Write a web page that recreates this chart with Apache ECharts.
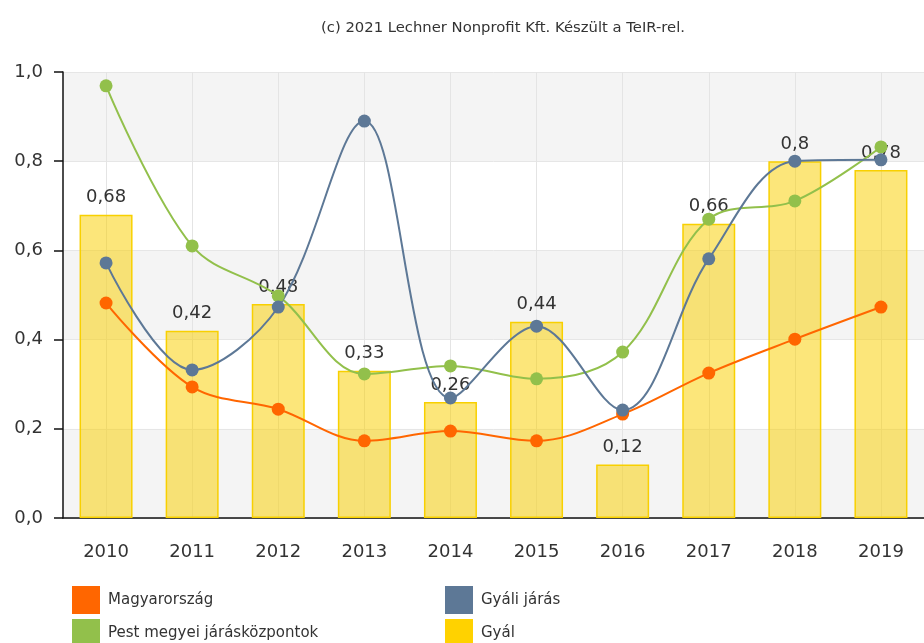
<!DOCTYPE html>
<html>
<head>
<meta charset="utf-8">
<script src="https://cdn.jsdelivr.net/npm/echarts@6/dist/echarts.min.js"></script>
<style>
  html, body { margin: 0; padding: 0; background: #fff; }
  #chart { width: 924px; height: 643px; }
</style>
</head>
<body>
<div id="chart"></div>
<script>
const years = ['2010', '2011', '2012', '2013', '2014', '2015', '2016', '2017', '2018', '2019'];
const gyal = [0.68, 0.42, 0.48, 0.33, 0.26, 0.44, 0.12, 0.66, 0.80, 0.78];
const magyarorszag = [0.482, 0.294, 0.244, 0.173, 0.195, 0.173, 0.233, 0.325, 0.401, 0.473];
const gyaliJaras = [0.572, 0.332, 0.473, 0.890, 0.269, 0.430, 0.242, 0.581, 0.800, 0.803];
const pestJarask = [0.969, 0.610, 0.498, 0.323, 0.341, 0.312, 0.372, 0.670, 0.711, 0.832];

const FONT = 'DejaVu Sans';

// tizedesvessző a magyar formátumhoz
function hu(v) {
    return String(v).replace('.', ',');
}

function lineSeries(name, data, color) {
    return {
        name: name,
        type: 'line',
        data: data,
        smooth: 0.35,
        symbol: 'circle',
        symbolSize: 13,
        lineStyle: { color: color, width: 2 },
        itemStyle: { color: color },
        emphasis: { disabled: true }
    };
}

function legendBox(left, items) {
    return {
        orient: 'vertical',
        left: left,
        top: 586,
        height: 90,
        padding: 0,
        icon: 'rect',
        itemWidth: 28,
        itemHeight: 28,
        itemGap: 5,
        textStyle: { fontFamily: FONT, fontSize: 15, color: '#333', padding: [0, 0, 0, 3] },
        data: items
    };
}

const ch = echarts.init(document.getElementById('chart'));

ch.setOption({
    animation: false,
    title: {
        text: '(c) 2021 Lechner Nonprofit Kft. Készült a TeIR-rel.',
        left: 316,
        top: 16,
        textStyle: { fontFamily: FONT, fontSize: 14.8, fontWeight: 'normal', color: '#333' }
    },
    legend: [
        legendBox(72, [
            { name: 'Magyarország', itemStyle: { color: '#ff6600' } },
            { name: 'Pest megyei járásközpontok', itemStyle: { color: '#92c04b' } }
        ]),
        legendBox(445, [
            { name: 'Gyáli járás', itemStyle: { color: '#5d7896' } },
            { name: 'Gyál', itemStyle: { color: '#ffd200', borderWidth: 0, opacity: 1 } }
        ])
    ],
    grid: {
        left: 63,
        right: -11,
        top: 72,
        bottom: 125
    },
    xAxis: {
        type: 'category',
        data: years,
        axisLine: { lineStyle: { color: '#111', width: 1.5 } },
        axisTick: { alignWithLabel: true, length: 7, lineStyle: { color: '#111', width: 1.5 } },
        axisLabel: { fontFamily: FONT, fontSize: 18, color: '#333', margin: 25 },
        splitLine: { show: true, alignWithLabel: true, lineStyle: { color: '#e4e4e4', width: 1 } }
    },
    yAxis: {
        type: 'value',
        min: 0,
        max: 1,
        interval: 0.2,
        axisLine: { show: true, lineStyle: { color: '#111', width: 1.5 } },
        axisTick: { show: true, length: 9, lineStyle: { color: '#111', width: 1.5 } },
        axisLabel: {
            fontFamily: FONT, fontSize: 18, color: '#333', margin: 20,
            formatter: v => v.toFixed(1).replace('.', ',')
        },
        splitLine: { show: true, lineStyle: { color: '#e6e6e6' } },
        splitArea: { show: true, areaStyle: { color: ['#f4f4f4', '#ffffff'] } }
    },
    series: [
        {
            name: 'Gyál',
            type: 'bar',
            data: gyal,
            barWidth: 53,
            itemStyle: { color: 'rgba(249, 208, 0, 0.52)', borderColor: '#f8d000', borderWidth: 1.5 },
            label: {
                show: true,
                position: 'top',
                distance: 8,
                fontFamily: FONT,
                fontSize: 18,
                color: '#333',
                formatter: p => hu(p.value)
            },
            emphasis: { disabled: true }
        },
        lineSeries('Magyarország', magyarorszag, '#ff6600'),
        lineSeries('Pest megyei járásközpontok', pestJarask, '#92c04b'),
        lineSeries('Gyáli járás', gyaliJaras, '#5d7896')
    ]
});
</script>
</body>
</html>
